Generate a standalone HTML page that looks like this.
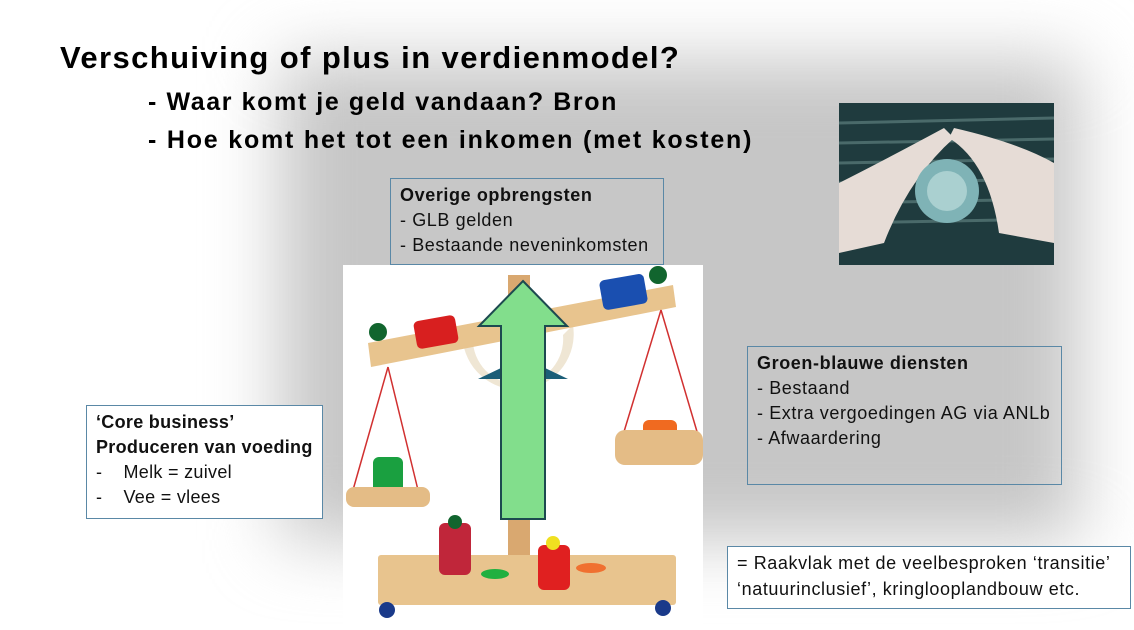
<!DOCTYPE html>
<html><head><meta charset="utf-8"><style>
body{margin:0;width:1134px;height:630px;overflow:hidden;background:#fff;position:relative;font-family:"Liberation Sans",sans-serif;}
.bg{position:absolute;left:280px;top:60px;width:800px;height:480px;background:#c6c6c6;filter:blur(35px);}
.box{position:absolute;border:1.5px solid #5a88a6;font-size:18px;line-height:25px;letter-spacing:0.6px;color:#111;padding:4px 9px;box-sizing:border-box;white-space:nowrap;overflow:hidden;}
.t{position:absolute;font-weight:bold;color:#000;white-space:nowrap;}
</style></head><body>
<div class="bg"></div>
<div class="t" style="left:60px;top:40px;font-size:31px;letter-spacing:1.4px;">Verschuiving of plus in verdienmodel?</div>
<div class="t" style="left:148px;top:88px;font-size:25px;letter-spacing:1.6px;">- Waar komt je geld vandaan? Bron</div>
<div class="t" style="left:148px;top:126px;font-size:25px;letter-spacing:1.8px;">- Hoe komt het tot een inkomen (met kosten)</div>
<svg style="position:absolute;left:839px;top:103px" width="215" height="162">
<rect width="215" height="162" fill="#1f3b3e"/>
<g stroke="#4a6a6a" stroke-width="3">
<line x1="0" y1="20" x2="215" y2="15"/><line x1="0" y1="40" x2="215" y2="36"/><line x1="0" y1="60" x2="215" y2="56"/><line x1="0" y1="80" x2="215" y2="76"/><line x1="0" y1="100" x2="215" y2="96"/><line x1="0" y1="120" x2="215" y2="116"/></g>
<path d="M0 80 Q40 60 105 25 L115 35 Q70 75 45 140 L0 150Z" fill="#e6dcd6"/>
<path d="M215 60 Q180 40 115 25 L110 35 Q150 60 160 130 L215 140Z" fill="#e6dcd6"/>
<circle cx="108" cy="88" r="32" fill="#7fb3b6"/><circle cx="108" cy="88" r="20" fill="#aad0d0"/>
</svg>
<svg style="position:absolute;left:343px;top:265px" width="360" height="365">
<rect width="360" height="365" fill="#fff"/>
<rect x="165" y="10" width="22" height="290" fill="#d9a870"/>
<path d="M130 78 A45 45 0 0 0 220 70 L230 60 A55 55 0 0 1 120 78Z" fill="#efe6d4"/>
<polygon points="25,78 330,20 333,42 28,102" fill="#e8c48e"/>
<rect x="72" y="53" width="42" height="28" rx="5" fill="#d81f1f" transform="rotate(-10 93 67)"/>
<rect x="258" y="12" width="45" height="30" rx="5" fill="#1a4fb0" transform="rotate(-10 280 27)"/>
<circle cx="35" cy="67" r="9" fill="#11652e"/><circle cx="315" cy="10" r="9" fill="#11652e"/>
<g stroke="#d13030" stroke-width="1.5"><line x1="45" y1="102" x2="10" y2="225"/><line x1="45" y1="102" x2="75" y2="225"/><line x1="318" y1="45" x2="280" y2="170"/><line x1="318" y1="45" x2="355" y2="170"/></g>
<rect x="30" y="192" width="30" height="38" rx="6" fill="#1aa040"/>
<rect x="3" y="222" width="84" height="20" rx="8" fill="#e4bc86"/>
<rect x="300" y="155" width="34" height="25" rx="6" fill="#f06a20"/>
<rect x="272" y="165" width="88" height="35" rx="10" fill="#e4bc86"/>
<rect x="35" y="290" width="298" height="50" rx="3" fill="#e8c48e"/>
<rect x="96" y="258" width="32" height="52" rx="6" fill="#c0263a"/><circle cx="112" cy="257" r="7" fill="#11652e"/>
<rect x="195" y="280" width="32" height="45" rx="6" fill="#e02020"/><circle cx="210" cy="278" r="7" fill="#f0e020"/>
<ellipse cx="152" cy="309" rx="14" ry="5" fill="#20b040"/><ellipse cx="248" cy="303" rx="15" ry="5" fill="#f07030"/>
<circle cx="44" cy="345" r="8" fill="#1a3a8a"/><circle cx="320" cy="343" r="8" fill="#1a3a8a"/>
<polygon points="180,16 224,61 202,61 202,103 225,114 135,114 158,103 158,61 136,61" fill="#1b5e78"/>
<polygon points="180,16 224,61 202,61 202,254 158,254 158,61 136,61" fill="#82de8c" stroke="#1d4a50" stroke-width="2"/>
</svg>
<div class="box" style="left:390px;top:178px;width:274px;height:87px;background:rgba(200,200,200,.6)"><b>Overige opbrengsten</b><br>- GLB gelden<br>- Bestaande neveninkomsten</div>
<div class="box" style="left:86px;top:405px;width:237px;height:114px;background:#fff;letter-spacing:0.3px"><b>‘Core business’<br>Produceren van voeding</b><br>-&nbsp;&nbsp;&nbsp;&nbsp;Melk = zuivel<br>-&nbsp;&nbsp;&nbsp;&nbsp;Vee = vlees</div>
<div class="box" style="left:747px;top:346px;width:315px;height:139px;"><b>Groen-blauwe diensten</b><br>- Bestaand<br>- Extra vergoedingen AG via ANLb<br>- Afwaardering</div>
<div class="box" style="left:727px;top:546px;width:404px;height:63px;background:#fff;line-height:26px;padding-top:3px">= Raakvlak met de veelbesproken ‘transitie’<br>‘natuurinclusief’, kringlooplandbouw etc.</div>
</body></html>
